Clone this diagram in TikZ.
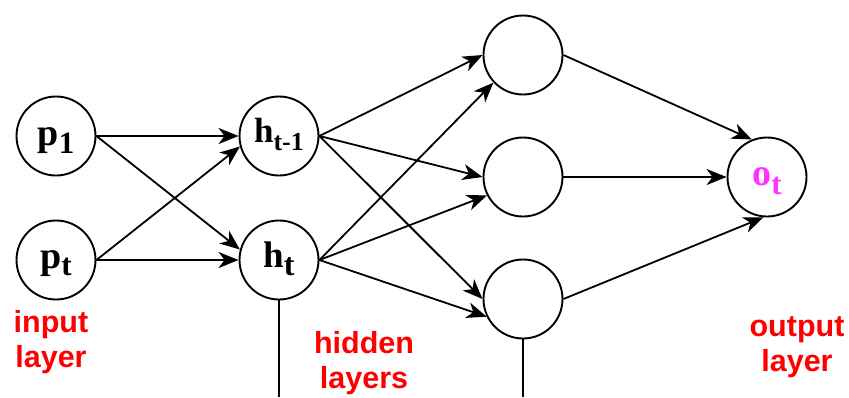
\documentclass[tikz,border=0pt]{standalone}
\usepackage{fontspec}
\setmainfont{Liberation Serif}
\newfontfamily\labelfont{Liberation Sans}
\usetikzlibrary{arrows.meta}
\definecolor{lblred}{RGB}{255,0,0}
\definecolor{outmag}{RGB}{255,51,255}
\begin{document}
\begin{tikzpicture}[x=1pt,y=-1pt,
  neuron/.style={circle,draw=black,line width=1.9pt,minimum size=79pt,inner sep=0pt,font=\bfseries},
  conn/.style={line width=1.8pt,-{Stealth[length=20pt,width=16pt,inset=6pt]}},
  plainline/.style={line width=1.8pt},
  layerlbl/.style={text=lblred,font=\labelfont\bfseries\fontsize{30.5}{35}\selectfont,align=center,inner sep=0pt}]
\useasboundingbox (0,0) rectangle (849,397);

\node[neuron,text height=18pt,text depth=0pt] (p1) at (56,136) {{\fontsize{38}{38}\selectfont p}\raisebox{-8pt}{\fontsize{31}{31}\selectfont 1}};
\node[neuron,text height=16pt,text depth=0pt] (pt) at (56,260) {{\fontsize{38}{38}\selectfont p}\raisebox{-7pt}{\fontsize{31}{31}\selectfont t}};
\node[neuron,text height=12pt,text depth=0pt] (ht1) at (279,136) {{\fontsize{35}{35}\selectfont h}\raisebox{-8pt}{\fontsize{26}{26}\selectfont t-1}};
\node[neuron,text height=14pt,text depth=0pt] (ht) at (279,260) {{\fontsize{37}{37}\selectfont h}\raisebox{-8pt}{\fontsize{32}{32}\selectfont t}};
\node[neuron] (n1) at (523,55) {};
\node[neuron] (n2) at (523,177) {};
\node[neuron] (n3) at (523,299) {};
\node[neuron,text=outmag,text height=16pt,text depth=0pt] (o) at (767,177) {{\fontsize{38}{38}\selectfont o}\raisebox{-9pt}{\fontsize{31}{31}\selectfont t}};

\draw[conn] (p1.east) -- (ht1.west);
\draw[conn] (p1.east) -- (ht.165);
\draw[conn] (pt.east) -- (ht1.195);
\draw[conn] (pt.east) -- (ht.west);

\draw[conn] (ht1.east) -- (n1.west);
\draw[conn] (ht1.east) -- (n2.west);
\draw[conn] (ht1.east) -- (n3.west);
\draw[conn] (ht.east) -- (n1.223);
\draw[conn] (ht.east) -- (n2.207);
\draw[conn] (ht.east) -- (n3.206);

\draw[conn] (n1.east) -- (o.112);
\draw[conn] (n2.east) -- (o.west);
\draw[conn] (n3.east) -- (o.265);

\coordinate (htend) at (279,397);
\coordinate (n3end) at (523,397);
\draw[plainline] (ht.south) -- (htend);
\draw[plainline] (n3.south) -- (n3end);

\node[layerlbl] (inlbl) at (51,342) {input\\layer};
\node[layerlbl] (hidlbl) at (364,363) {hidden\\layers};
\node[layerlbl] (outlbl) at (797,347) {output\\layer};
\end{tikzpicture}
\end{document}
